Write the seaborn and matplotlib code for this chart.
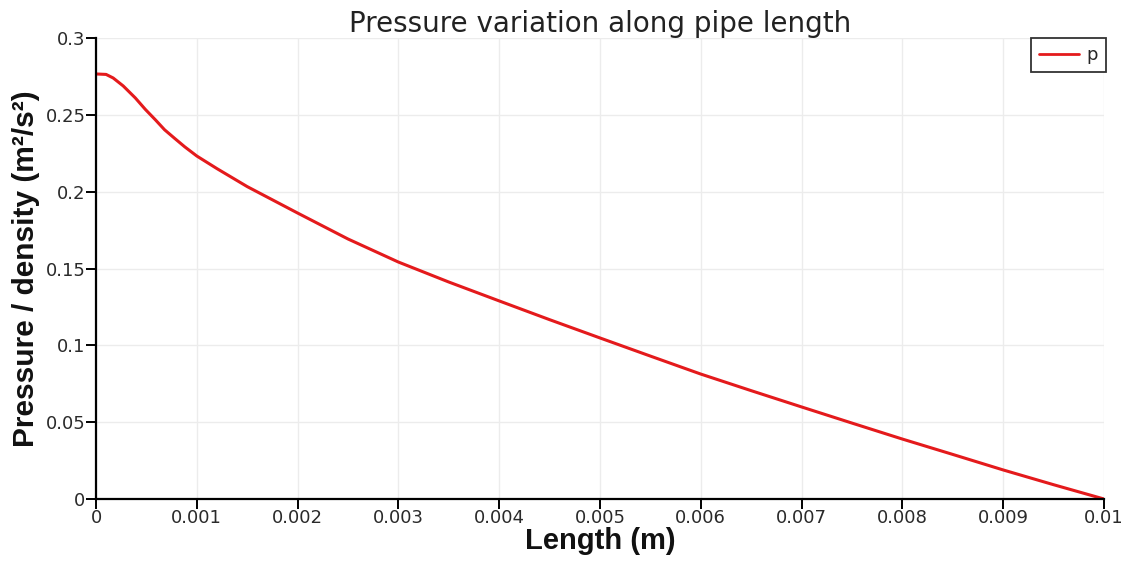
import matplotlib
matplotlib.use("Agg")
import matplotlib.pyplot as plt
import seaborn as sns
import pandas as pd

length = [0.0, 0.0001, 0.00017, 0.00027, 0.00039, 0.00049, 0.00059, 0.00068,
          0.00078, 0.00088, 0.001, 0.0012, 0.0015, 0.002, 0.0025, 0.003, 0.0035,
          0.004, 0.0045, 0.005, 0.0055, 0.006, 0.0065, 0.007, 0.0075, 0.008,
          0.0085, 0.009, 0.0095, 0.01]
pressure = [0.2766, 0.2763, 0.2740, 0.2688, 0.2610, 0.2535, 0.2467, 0.2403,
            0.2347, 0.2292, 0.2232, 0.2150, 0.2033, 0.1861, 0.1692, 0.1542, 0.1412,
            0.1289, 0.1167, 0.1048, 0.0930, 0.0813, 0.0705, 0.0599, 0.0494, 0.0390,
            0.0290, 0.0189, 0.0093, 0.0]
series_name = "p"
xticks = [0, 0.001, 0.002, 0.003, 0.004, 0.005, 0.006, 0.007, 0.008, 0.009, 0.01]
xtick_labels = ["0", "0.001", "0.002", "0.003", "0.004", "0.005", "0.006", "0.007", "0.008", "0.009", "0.01"]
yticks = [0, 0.05, 0.1, 0.15, 0.2, 0.25, 0.3]
ytick_labels = ["0", "0.05", "0.1", "0.15", "0.2", "0.25", "0.3"]

df = pd.DataFrame({"Length": length, "Pressure": pressure, "series": series_name})

sns.set_style("white")
plt.rcParams["font.family"] = ["DejaVu Sans"]

fig = plt.figure(figsize=(11.26, 5.65), dpi=100)
ax = fig.add_axes([96 / 1126, 66 / 565, 1008 / 1126, 461 / 565])

sns.lineplot(data=df, x="Length", y="Pressure", hue="series", palette=["#e41a1c"],
             linewidth=2.2, ax=ax)

ax.set_xlim(0, 0.01)
ax.set_ylim(0, 0.3)
ax.set_xticks(xticks)
ax.set_xticklabels(xtick_labels)
ax.set_yticks(yticks)
ax.set_yticklabels(ytick_labels)
ax.grid(True, color="#ececec", linewidth=1)
ax.set_axisbelow(True)
for s in ["top", "right"]:
    ax.spines[s].set_visible(False)
for s in ["left", "bottom"]:
    ax.spines[s].set_color("black")
    ax.spines[s].set_linewidth(1.6)
ax.tick_params(axis="both", which="both", direction="out", length=7, width=1.4,
               color="black", labelsize=13, labelcolor="#2a2a2a", pad=0.5,
               bottom=True, left=True)

ax.set_xlabel("Length (m)", fontsize=21, fontweight="bold", labelpad=0,
              color="#111111", family=["Liberation Sans", "DejaVu Sans"])
ax.set_ylabel("Pressure / density (m²/s²)", fontsize=21.5, fontweight="bold", labelpad=4,
              color="#111111", family=["Liberation Sans", "DejaVu Sans"])
ax.set_title("Pressure variation along pipe length", fontsize=20, color="#222222", pad=2)

leg = ax.legend(loc="upper right", bbox_to_anchor=(1.002, 1.0), frameon=True,
                fancybox=False, edgecolor="black", fontsize=13, handlelength=2.2,
                handletextpad=0.4, borderpad=0.45, borderaxespad=0)
leg.get_frame().set_linewidth(1.3)
for line in leg.get_lines():
    line.set_linewidth(2.0)

fig.savefig("out.png", dpi=100)
